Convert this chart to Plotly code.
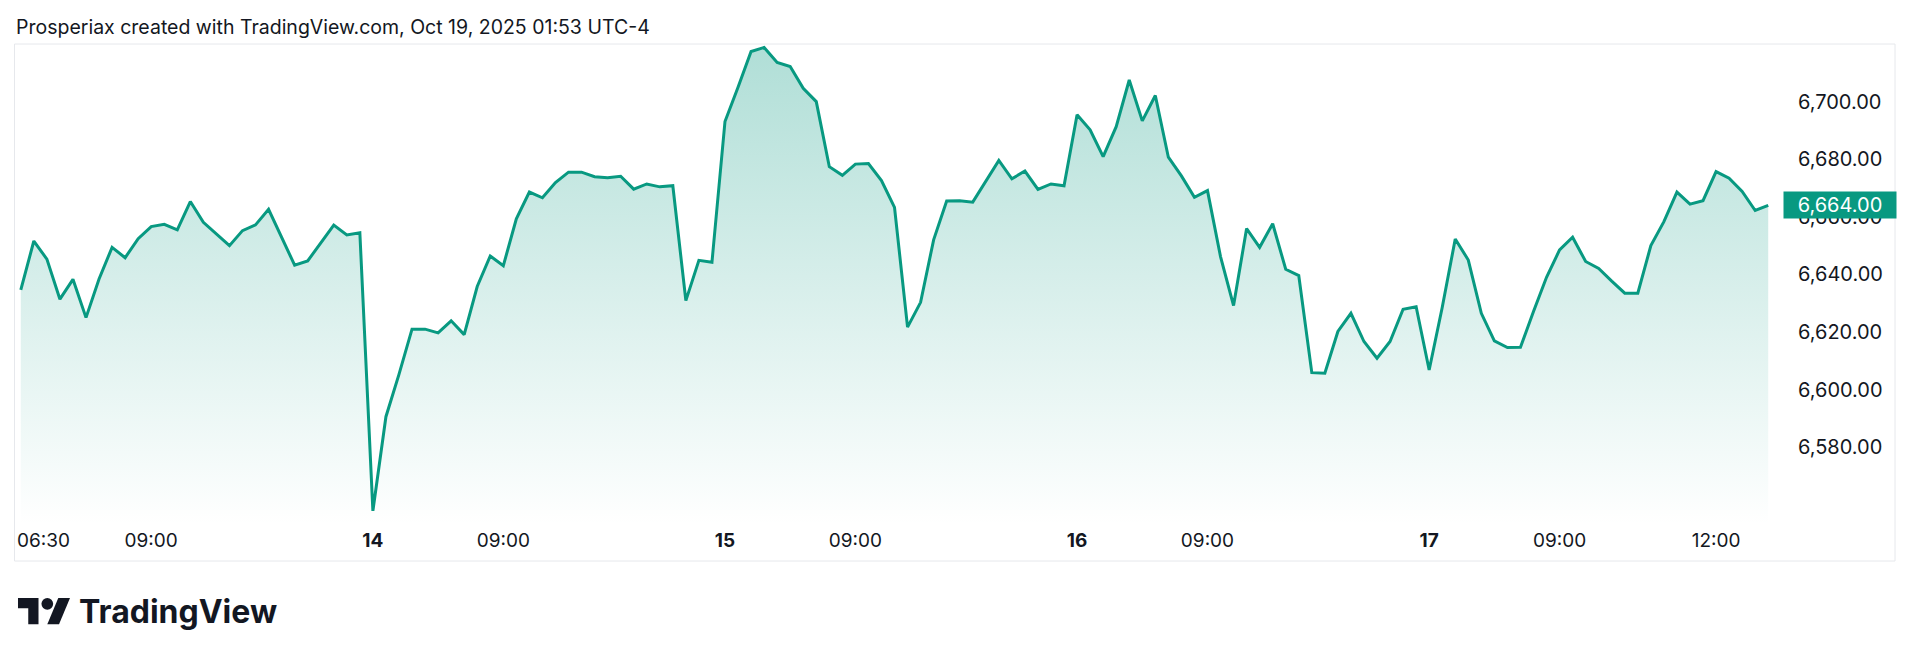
import plotly.graph_objects as go

# --------------------- Data (15-minute closes, 27 bars per session)
price_13 = [6634.6, 6651.6, 6645.3, 6631.4, 6638.3, 6625.0, 6638.4, 6649.4, 6645.8,
            6652.4, 6656.6, 6657.4, 6655.5, 6665.3, 6658.1, 6654.2, 6650.0, 6655.2,
            6657.2, 6662.6, 6653.1, 6643.2, 6644.7, 6650.7, 6657.1, 6653.7, 6654.5]
price_14 = [6557.9, 6590.6, 6605.3, 6621.0, 6621.0, 6619.7, 6623.9, 6619.1, 6635.8,
            6646.4, 6643.0, 6659.3, 6668.6, 6666.6, 6671.9, 6675.5, 6675.5, 6673.9,
            6673.6, 6674.1, 6669.6, 6671.4, 6670.4, 6670.8, 6630.9, 6644.9, 6644.2]
price_15 = [6693.1, 6705.0, 6717.4, 6718.8, 6713.6, 6712.2, 6704.6, 6700.0, 6677.4,
            6674.4, 6678.3, 6678.5, 6672.6, 6663.3, 6621.7, 6630.3, 6652.0, 6665.5,
            6665.6, 6665.1, 6672.5, 6679.6, 6673.2, 6675.9, 6669.5, 6671.4, 6670.8]
price_16 = [6695.4, 6690.2, 6680.9, 6691.3, 6707.5, 6693.3, 6702.1, 6680.7, 6674.2,
            6666.8, 6669.1, 6646.2, 6629.2, 6655.9, 6649.4, 6657.6, 6641.8, 6639.6,
            6605.9, 6605.7, 6620.2, 6626.5, 6616.7, 6610.9, 6616.7, 6627.9, 6628.8]
price_17 = [6606.8, 6628.5, 6652.3, 6645.0, 6626.5, 6616.9, 6614.6, 6614.7, 6627.1,
            6639.0, 6648.5, 6652.9, 6644.5, 6642.1, 6637.7, 6633.5, 6633.5, 6650.0,
            6658.3, 6668.6, 6664.4, 6665.6, 6675.7, 6673.4, 6668.8, 6662.2, 6664.0]

# first time label sits left-aligned on the first bar, the rest centred on their bar
first_tick_text = "06:30"
time_tick_bars = [10, 27, 37, 54, 64, 81, 91, 108, 118, 130]
time_tick_text = ["09:00", "<b>14</b>", "09:00", "<b>15</b>", "09:00",
                  "<b>16</b>", "09:00", "<b>17</b>", "09:00", "12:00"]
price_ticks = [6580, 6600, 6620, 6640, 6660, 6680, 6700]
last_price = 6664.00

price = price_13 + price_14 + price_15 + price_16 + price_17
bars = list(range(len(price)))

# --------------------- Geometry (pixels of the 1920x660 window, body margin 8)
W, H = 1904, 644
PAGE_MARGIN = 8
GREEN = "#089981"
TEXT = "#131722"
FONT = "Inter"


def px(x):
    return (x - PAGE_MARGIN) / W


def py(y):
    return 1 - (y - PAGE_MARGIN) / H


pane_left, pane_right, pane_top, pane_bottom = 15, 1775, 44, 525

fig = go.Figure()

fig.add_trace(
    go.Scatter(
        x=bars, y=price, mode="lines",
        line=dict(color=GREEN, width=3),
        fill="tozeroy",
        fillgradient=dict(
            type="vertical",
            colorscale=[[0, "rgba(8,153,129,0.0)"], [1, "rgba(8,153,129,0.32)"]],
            start=6553, stop=6719),
        hoverinfo="skip", showlegend=False))

# Axes
fig.update_xaxes(
    domain=[px(pane_left), px(pane_right)],
    range=[-0.445, 134.52], automargin=False,
    tickmode="array", tickvals=time_tick_bars, ticktext=time_tick_text,
    showgrid=False, zeroline=False, showline=False, ticks="",
    tickfont=dict(family=FONT, size=19, color=TEXT),
    ticklabelstandoff=2)

fig.update_yaxes(
    domain=[py(pane_bottom), py(pane_top)],
    range=[6553.0, 6720.0], side="right", automargin=False,
    tickmode="array", tickvals=price_ticks,
    tickformat=",.2f",
    showgrid=False, zeroline=False, showline=False, ticks="",
    tickfont=dict(family=FONT, size=20, color=TEXT),
    ticklabelstandoff=22)

fig.add_annotation(
    xref="x", yref="paper", x=bars[0], y=py(540), xshift=-6,
    xanchor="left", yanchor="middle", showarrow=False,
    text=first_tick_text,
    font=dict(family=FONT, size=19, color=TEXT))

# Frame, header and last price tag
fig.add_shape(type="rect", xref="paper", yref="paper",
              x0=px(14.5), x1=px(1895), y0=py(561), y1=py(44),
              line=dict(color="#e6e8ec", width=1), layer="below")

fig.add_annotation(
    xref="paper", yref="paper", x=px(14), y=py(27),
    xanchor="left", yanchor="middle", showarrow=False,
    text="Prosperiax created with TradingView.com, Oct 19, 2025 01:53 UTC-4",
    font=dict(family=FONT, size=19.5, color=TEXT))

fig.add_annotation(
    xref="paper", yref="y", x=px(1783), y=last_price,
    xanchor="left", yanchor="middle", showarrow=False,
    text=f"{last_price:,.2f}", bgcolor=GREEN, borderpad=2,
    width=108, height=22, align="center",
    font=dict(family=FONT, size=20, color="white"))

# TradingView logo (36x28 icon scaled)
s = 1.465
ox, oy = 18, 598 - 4 * s


def icon_path(points):
    parts = []
    for i, (vx, vy) in enumerate(points):
        cmd = "M" if i == 0 else "L"
        parts.append(f"{cmd}{px(ox + vx * s):.5f},{py(oy + vy * s):.5f}")
    return " ".join(parts) + " Z"


stem = [(0, 4), (14, 4), (14, 22), (7, 22), (7, 11), (0, 11)]
slash = [(20, 22), (27.5, 4), (35.5, 4), (28, 22)]
for pts in (stem, slash):
    fig.add_shape(type="path", xref="paper", yref="paper",
                  path=icon_path(pts), fillcolor=TEXT, line=dict(width=0))
fig.add_shape(type="circle", xref="paper", yref="paper",
              x0=px(ox + 16 * s), x1=px(ox + 24 * s),
              y0=py(oy + 12 * s), y1=py(oy + 4 * s),
              fillcolor=TEXT, line=dict(width=0))

fig.add_annotation(
    xref="paper", yref="paper", x=px(77), y=py(611),
    xanchor="left", yanchor="middle", showarrow=False,
    text="<b>TradingView</b>",
    font=dict(family=FONT, size=32, color=TEXT))

fig.update_layout(
    width=W, height=H,
    margin=dict(l=0, r=0, t=0, b=0),
    plot_bgcolor="white", paper_bgcolor="white",
    font=dict(family=FONT, color=TEXT))

fig.write_html("out.html")
